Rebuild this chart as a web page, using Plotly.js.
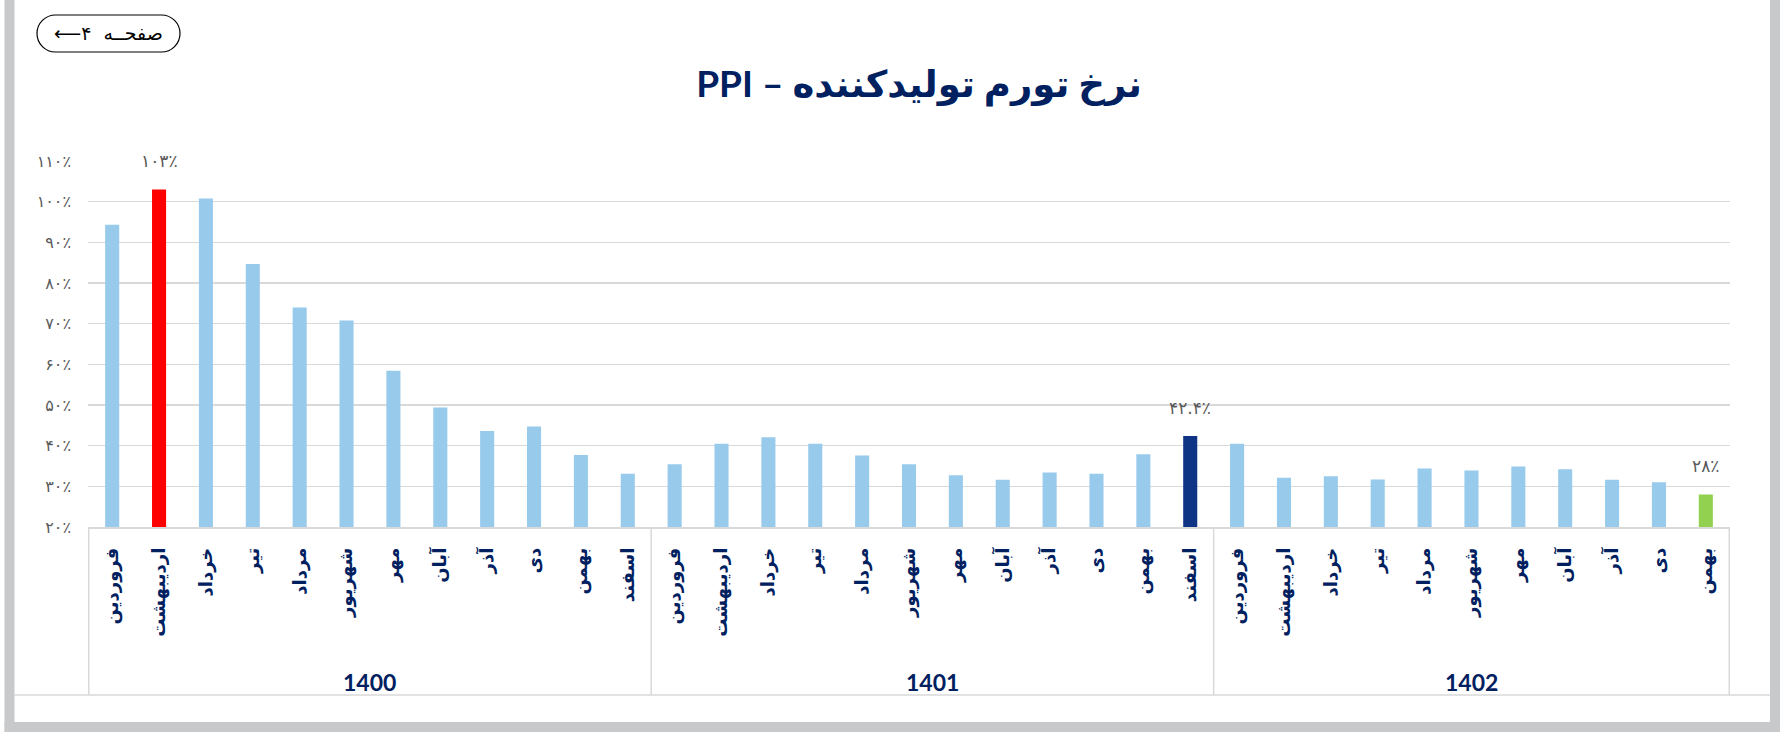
<!DOCTYPE html>
<html><head><meta charset="utf-8">
<script src="https://cdn.plot.ly/plotly-3.0.1.min.js"></script>
<style>html,body{margin:0;padding:0;background:#fff;overflow:hidden}#chart{width:1788px;height:732px}</style>
</head><body><div id="chart"></div>
<script>
// ---------- data ----------
const years = ['1400', '1401', '1402'];
const months = ['فروردین', 'اردیبهشت', 'خرداد', 'تیر', 'مرداد', 'شهریور', 'مهر', 'آبان', 'آذر', 'دی', 'بهمن', 'اسفند'];
const ppi1400 = [94.3, 103.0, 100.8, 84.7, 74.0, 70.8, 58.4, 49.4, 43.6, 44.7, 37.7, 33.1];
const ppi1401 = [35.4, 40.5, 42.1, 40.5, 37.6, 35.4, 32.7, 31.6, 33.4, 33.1, 37.9, 42.4];
const ppi1402 = [40.5, 32.1, 32.5, 31.7, 34.4, 33.9, 34.9, 34.2, 31.6, 31.0, 28.0];
const yTickVals = [20, 30, 40, 50, 60, 70, 80, 90, 100, 110];
const yTickText = ['۲۰٪', '۳۰٪', '۴۰٪', '۵۰٪', '۶۰٪', '۷۰٪', '۸۰٪', '۹۰٪', '۱۰۰٪', '۱۱۰٪'];
const highlightYears = ['1400', '1401', '1402'];
const highlightMonths = ['اردیبهشت', 'اسفند', 'بهمن'];
const highlightLabels = ['۱۰۳٪', '۴۲.۴٪', '۲۸٪'];
const titleText = 'PPI – نرخ تورم تولیدکننده';
const pageButtonText = '⟵۴\u00a0\u00a0صفحــه';

// ---------- styles ----------
const baseColor = '#98CAEB';
const highlightColors = ['#FF0000', '#0F3385', '#92D050'];
const navy = '#002060';
const gridColor = '#D9D9D9';
const frameColor = '#C8C9CB';

// ---------- build ----------
const seriesByYear = [ppi1400, ppi1401, ppi1402];
const keys = [], vals = [], tickText = [], colors = [];
const groupStarts = [];
seriesByYear.forEach((arr, yi) => {
  groupStarts.push(keys.length);
  arr.forEach((v, mi) => {
    const k = years[yi] + ' ' + months[mi];
    keys.push(k); vals.push(v); tickText.push(months[mi]);
    const h = highlightYears.findIndex((y, i) => y === years[yi] && highlightMonths[i] === months[mi]);
    colors.push(h >= 0 ? highlightColors[h] : baseColor);
  });
});
groupStarts.push(keys.length);

const W = 1788, H = 732;
const L = 88, R = 1730, T = 161, B = 527;
const px2x = p => (p - L) / (R - L);
const px2y = p => (B - p) / (B - T);

const shapes = [];
groupStarts.forEach(s => {
  shapes.push({type: 'line', xref: 'x', yref: 'paper', x0: s - 0.5, x1: s - 0.5,
    y0: 0, y1: px2y(695), line: {color: gridColor, width: 1.5}});
});
shapes.push({type: 'line', xref: 'paper', yref: 'paper', x0: px2x(14.5), x1: px2x(1770),
  y0: px2y(695), y1: px2y(695), line: {color: gridColor, width: 1.5}});
const rect = (x0, x1, y0, y1) => ({type: 'rect', xref: 'paper', yref: 'paper', layer: 'above',
  x0: px2x(x0), x1: px2x(x1), y0: px2y(y1), y1: px2y(y0), fillcolor: frameColor, line: {width: 0}});
shapes.push(rect(4.5, 14.5, 0, 732));
shapes.push(rect(1770, 1780, 0, 732));
shapes.push(rect(4.5, 1780, 722, 732));
(function () {
  const x0 = 37, x1 = 180, y0 = 15, y1 = 52, r = (y1 - y0) / 2, k = 0.5523 * r;
  const P = (x, y) => px2x(x).toFixed(5) + ',' + px2y(y).toFixed(5);
  const d = 'M' + P(x0 + r, y0) + ' L' + P(x1 - r, y0) +
    ' C' + P(x1 - r + k, y0) + ' ' + P(x1, y0 + r - k) + ' ' + P(x1, y0 + r) +
    ' C' + P(x1, y0 + r + k) + ' ' + P(x1 - r + k, y1) + ' ' + P(x1 - r, y1) +
    ' L' + P(x0 + r, y1) +
    ' C' + P(x0 + r - k, y1) + ' ' + P(x0, y1 - r + k) + ' ' + P(x0, y1 - r) +
    ' C' + P(x0, y1 - r - k) + ' ' + P(x0 + r - k, y0) + ' ' + P(x0 + r, y0) + ' Z';
  shapes.push({type: 'path', xref: 'paper', yref: 'paper', path: d, line: {color: '#000', width: 1.2}});
})();

const annotations = [];
years.forEach((y, i) => {
  annotations.push({xref: 'x', yref: 'paper', x: (groupStarts[i] + groupStarts[i + 1] - 1) / 2,
    y: px2y(682), text: y, showarrow: false, yanchor: 'middle',
    font: {family: 'Lato, DejaVu Sans', size: 23, weight: 700, color: navy}});
});
highlightYears.forEach((y, i) => {
  const idx = keys.indexOf(y + ' ' + highlightMonths[i]);
  annotations.push({xref: 'x', yref: 'y', x: keys[idx], y: vals[idx], yshift: 28,
    text: highlightLabels[i], showarrow: false, yanchor: 'middle',
    font: {family: 'DejaVu Sans', size: 17, color: '#595959'}});
});
annotations.push({xref: 'paper', yref: 'paper', x: px2x(108.5), y: px2y(33.5), text: pageButtonText,
  showarrow: false, xanchor: 'center', yanchor: 'middle', font: {family: 'DejaVu Sans', size: 19, color: '#000'}});

const trace = {type: 'bar', x: keys, y: vals, marker: {color: colors, line: {width: 0}},
  hoverinfo: 'skip', cliponaxis: false};

const layout = {
  width: W, height: H, margin: {l: L, r: W - R, t: T, b: H - B, pad: 0},
  paper_bgcolor: '#fff', plot_bgcolor: '#fff', showlegend: false, bargap: 0.70,
  title: {text: titleText, x: 919 / W, xanchor: 'center', xref: 'container', y: 1 - 84 / H, yanchor: 'middle',
    font: {family: 'Lato, DejaVu Sans', size: 37, weight: 700, color: navy}},
  xaxis: {type: 'category', tickvals: keys, ticktext: tickText, tickangle: -90, ticks: '',
    showgrid: false, showline: true, linecolor: gridColor, linewidth: 1.5, ticklabelstandoff: 12,
    tickfont: {family: 'DejaVu Sans', size: 18, weight: 700, color: navy}, fixedrange: true},
  yaxis: {range: [20, 110], tickvals: yTickVals, ticktext: yTickText, showgrid: true, gridcolor: gridColor,
    gridwidth: 1.5, zeroline: false, showline: false, ticks: '', ticklabelstandoff: 16,
    tickfont: {family: 'DejaVu Sans', size: 16, color: '#595959'}, fixedrange: true},
  shapes: shapes, annotations: annotations
};
Plotly.newPlot('chart', [trace], layout, {displayModeBar: false, staticPlot: true});
</script></body></html>
